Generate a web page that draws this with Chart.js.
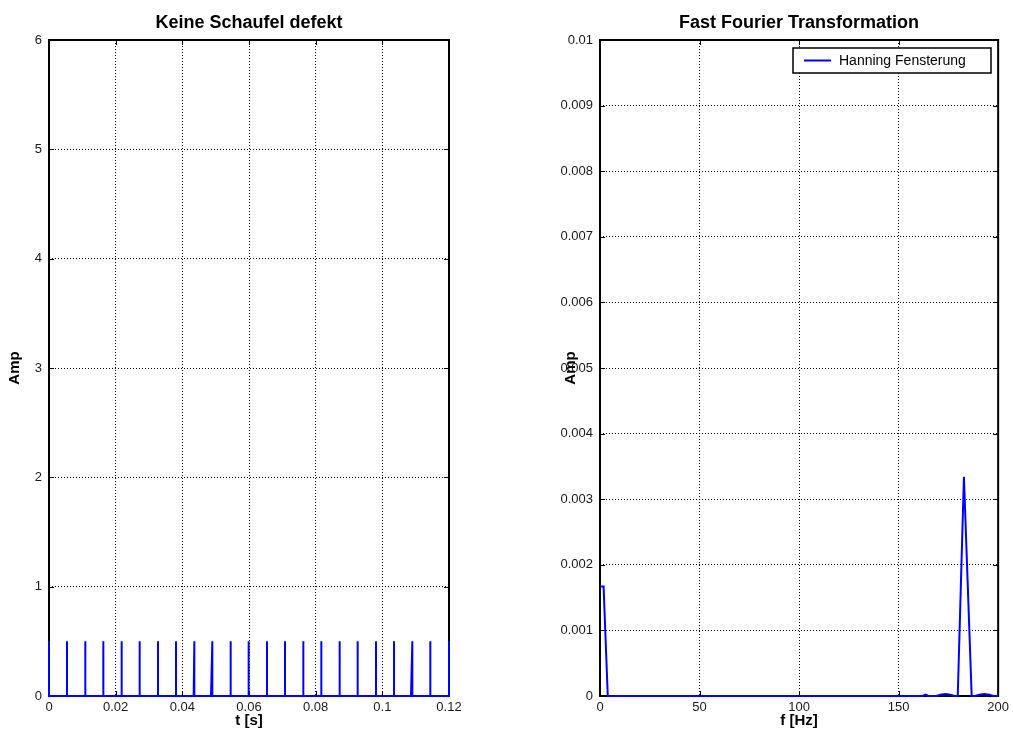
<!DOCTYPE html>
<html>
<head>
<meta charset="utf-8">
<script src="https://cdn.jsdelivr.net/npm/chart.js@4.4.1/dist/chart.umd.min.js"></script>
<style>
  body { margin: 0; background: #fff; }
  #wrap { position: relative; width: 1013px; height: 746px; }
  #left { position: absolute; left: 0; top: 0; }
  #right { position: absolute; left: 500px; top: 0; }
</style>
</head>
<body>
<div id="wrap">
  <canvas id="left" width="500" height="746"></canvas>
  <canvas id="right" width="513" height="746"></canvas>
</div>
<script>
// time signal: one pulse per blade pass (seconds)
const spikeRise = [0, 0.0054, 0.0109, 0.0163, 0.0218, 0.0272, 0.0327, 0.0381, 0.0434, 0.0486, 0.0545, 0.0599,
  0.0654, 0.0708, 0.0763, 0.0817, 0.0872, 0.0926, 0.0981, 0.1035, 0.1086, 0.1144, 0.12]
const spikeTop = [0, 0.0054, 0.0109, 0.0163, 0.0218, 0.0272, 0.0327, 0.0381, 0.0436, 0.0490, 0.0545, 0.0599,
  0.0654, 0.0708, 0.0763, 0.0817, 0.0872, 0.0926, 0.0981, 0.1035, 0.1090, 0.1144, 0.12]
const spikeAmp = [0.5, 0.5, 0.5, 0.5, 0.5, 0.5, 0.5, 0.5, 0.5, 0.5, 0.5, 0.5,
  0.5, 0.5, 0.5, 0.5, 0.5, 0.5, 0.5, 0.5, 0.5, 0.5, 0.5]

// spectrum (Hanning window)
const fftFreq = [0, 1.8, 3.9, 160, 162, 163.5, 165, 169, 171, 173.5, 176, 178, 179.7, 182.8, 186.7, 188.5, 190.5, 193, 195.5, 197.5, 200]
const fftAmp = [0.00167, 0.00167, 0, 0, 0, 0.00002, 0, 0, 0.00002, 0.00003, 0.00002, 0, 0, 0.00334, 0, 0, 0.00002, 0.00003, 0.00002, 0, 0]

// tick values and labels
const tTicks = [0, 0.02, 0.04, 0.06, 0.08, 0.1, 0.12]
const tLabels = ['0', '0.02', '0.04', '0.06', '0.08', '0.1', '0.12']
const ampTicks = [0, 1, 2, 3, 4, 5, 6]
const ampLabels = ['0', '1', '2', '3', '4', '5', '6']
const fTicks = [0, 50, 100, 150, 200]
const fLabels = ['0', '50', '100', '150', '200']
const fftTicks = [0, 0.001, 0.002, 0.003, 0.004, 0.005, 0.006, 0.007, 0.008, 0.009, 0.01]
const fftLabels = ['0', '0.001', '0.002', '0.003', '0.004', '0.005', '0.006', '0.007', '0.008', '0.009', '0.01']

const FONT = '"Liberation Sans", Arial, Helvetica, sans-serif'

// pulse train as a polyline: 0 -> peak -> 0 for each pulse
let timePoints = []
spikeRise.forEach((t, i) => {
  timePoints.push({ x: t, y: 0 })
  timePoints.push({ x: spikeTop[i], y: spikeAmp[i] })
  if (i < spikeRise.length - 1) timePoints.push({ x: spikeTop[i], y: 0 })
})
let fftPoints = fftFreq.map((f, i) => ({ x: f, y: fftAmp[i] }))

// axes box plus inward tick marks
const frame = {
  id: 'frame',
  beforeDatasetsDraw(chart) {
    const { ctx, chartArea: a, scales } = chart
    ctx.save()
    ctx.strokeStyle = '#000'
    ctx.lineWidth = 1
    ctx.beginPath()
    scales.x.ticks.forEach(t => {
      const px = Math.round(scales.x.getPixelForValue(t.value)) + 0.5
      ctx.moveTo(px, a.bottom); ctx.lineTo(px, a.bottom - 5)
      ctx.moveTo(px, a.top); ctx.lineTo(px, a.top + 5)
    })
    scales.y.ticks.forEach(t => {
      const py = Math.round(scales.y.getPixelForValue(t.value)) + 0.5
      ctx.moveTo(a.left, py); ctx.lineTo(a.left + 5, py)
      ctx.moveTo(a.right, py); ctx.lineTo(a.right - 5, py)
    })
    ctx.stroke()
    ctx.lineWidth = 2
    ctx.strokeRect(a.left, a.top, a.right - a.left, a.bottom - a.top)
    ctx.restore()
  }
}

// title centred over the plot area rather than the whole canvas
const heading = {
  id: 'heading',
  afterDraw(chart, args, opts) {
    const { ctx, chartArea: a } = chart
    ctx.save()
    ctx.font = 'bold 18px ' + FONT
    ctx.fillStyle = '#000'
    ctx.textAlign = 'center'
    ctx.textBaseline = 'middle'
    ctx.fillText(opts.text, (a.left + a.right) / 2, a.top - 17)
    ctx.restore()
  }
}

// boxed legend in the upper right corner of the plot area
const legendBox = {
  id: 'legendBox',
  afterDraw(chart, args, opts) {
    if (!opts.show) return
    const { ctx, chartArea: a } = chart
    const ds = chart.data.datasets[0]
    ctx.save()
    ctx.font = '14px ' + FONT
    const w = 198
    const h = 25
    const x = Math.round(a.right - 7 - w)
    const y = Math.round(a.top + 8)
    ctx.fillStyle = '#fff'
    ctx.fillRect(x, y, w, h)
    ctx.strokeStyle = '#000'
    ctx.lineWidth = 1.5
    ctx.strokeRect(x, y, w, h)
    ctx.strokeStyle = ds.borderColor
    ctx.lineWidth = 2
    ctx.beginPath()
    ctx.moveTo(x + 11, y + h / 2)
    ctx.lineTo(x + 38, y + h / 2)
    ctx.stroke()
    ctx.fillStyle = '#000'
    ctx.textBaseline = 'middle'
    ctx.fillText(ds.label, x + 46, y + h / 2 + 0.5)
    ctx.restore()
  }
}

function makeScale(min, max, values, labels, titleText, isX, size) {
  return {
    type: 'linear',
    min: min,
    max: max,
    afterBuildTicks: s => { s.ticks = values.map(v => ({ value: v })) },
    afterFit: s => { if (isX) s.height = size; else s.width = size },
    grid: { color: '#000', lineWidth: 1, drawTicks: false },
    border: { display: false, dash: [1, 2] },
    ticks: {
      color: '#1a1a1a',
      font: { family: FONT, size: 13 },
      padding: isX ? 4 : 7,
      maxRotation: 0,
      autoSkip: false,
      callback: (v, i) => labels[i]
    },
    title: {
      display: true,
      text: titleText,
      color: '#000',
      font: { family: FONT, size: 15, weight: 'bold' },
      padding: isX ? { top: 0, bottom: 16 } : { top: 6, bottom: 0 }
    }
  }
}

function makeChart(id, opts) {
  return new Chart(document.getElementById(id), {
    type: 'scatter',
    data: {
      datasets: [{
        label: opts.label,
        data: opts.data,
        showLine: true,
        borderColor: '#0000ff',
        borderWidth: 2,
        pointRadius: 0,
        tension: 0,
        clip: 4
      }]
    },
    options: {
      responsive: false,
      animation: false,
      layout: { padding: opts.padding },
      plugins: {
        legend: { display: false },
        tooltip: { enabled: false },
        title: { display: false },
        heading: { text: opts.title },
        legendBox: { show: opts.showLegend }
      },
      scales: {
        x: makeScale(opts.xMin, opts.xMax, opts.xTicks, opts.xLabels, opts.xTitle, true, 50),
        y: makeScale(opts.yMin, opts.yMax, opts.yTicks, opts.yLabels, 'Amp', false, opts.yWidth)
      }
    },
    plugins: [frame, heading, legendBox]
  })
}

makeChart('left', {
  label: 'Signal',
  data: timePoints,
  title: 'Keine Schaufel defekt',
  xMin: 0, xMax: 0.12, xTicks: tTicks, xLabels: tLabels, xTitle: 't [s]',
  yMin: 0, yMax: 6, yTicks: ampTicks, yLabels: ampLabels,
  yWidth: 49,
  padding: { left: 0, right: 51, top: 40, bottom: 0 },
  showLegend: false
})

makeChart('right', {
  label: 'Hanning Fensterung',
  data: fftPoints,
  title: 'Fast Fourier Transformation',
  xMin: 0, xMax: 200, xTicks: fTicks, xLabels: fLabels, xTitle: 'f [Hz]',
  yMin: 0, yMax: 0.01, yTicks: fftTicks, yLabels: fftLabels,
  yWidth: 44,
  padding: { left: 56, right: 13, top: 40, bottom: 0 },
  showLegend: true
})
</script>
</body>
</html>
